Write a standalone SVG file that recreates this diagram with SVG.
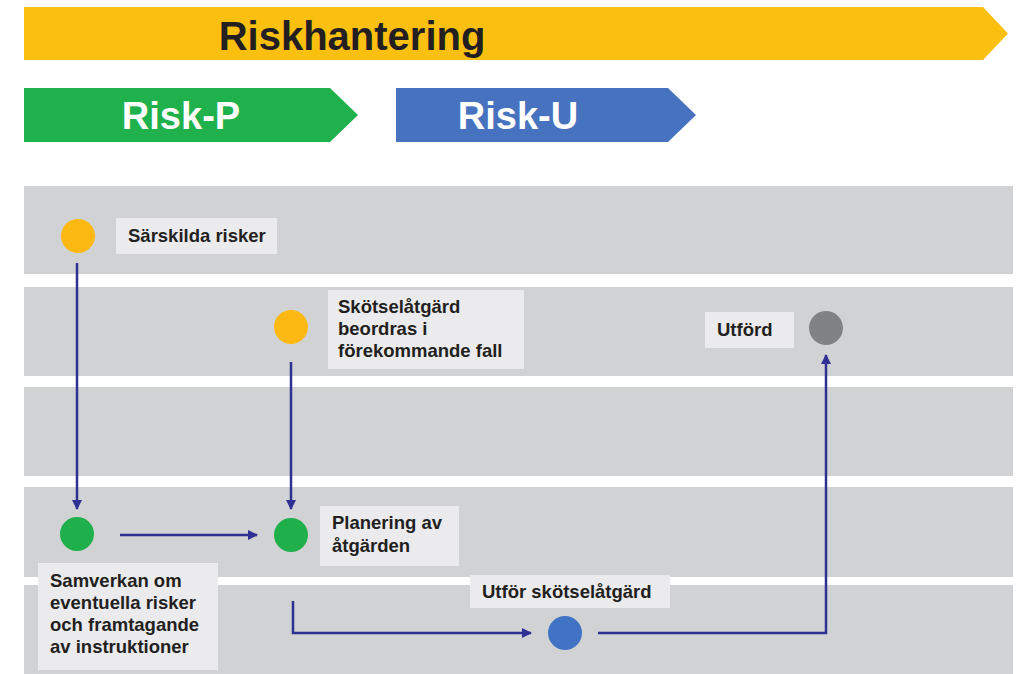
<svg xmlns="http://www.w3.org/2000/svg" width="1025" height="674" viewBox="0 0 1025 674">
<defs>
<style>
.lane{fill:#d1d2d4}
.lbl{fill:#ebebed}
.t{font-family:"Liberation Sans",Arial,sans-serif;font-weight:bold;font-size:18.5px;fill:#231f20}
.big{font-family:"Liberation Sans",Arial,sans-serif;font-weight:bold}
.c{fill:none;stroke:#2e3192;stroke-width:2.5}
</style>
<marker id="ah" viewBox="0 0 10 10" refX="9" refY="5" markerWidth="4" markerHeight="4" orient="auto" markerUnits="strokeWidth">
<path d="M0,0 L10,5 L0,10 Z" fill="#2e3192"/>
</marker>
</defs>
<rect width="1025" height="674" fill="#ffffff"/>
<g id="header">
<polygon points="24,7 983,7 1008,33.5 983,60 24,60" fill="#fbbf0f"/>
<text class="big" x="352" y="50" font-size="40" text-anchor="middle" fill="#231f20">Riskhantering</text>
<polygon points="24,88 330,88 358,115 330,142 24,142" fill="#1fb14b"/>
<text class="big" x="181" y="129" font-size="38" text-anchor="middle" fill="#ffffff">Risk-P</text>
<polygon points="396,88 668,88 696,115 668,142 396,142" fill="#4772c0"/>
<text class="big" x="518" y="129" font-size="38" text-anchor="middle" fill="#ffffff">Risk-U</text>
</g>
<g id="lanes">
<rect class="lane" x="24" y="186" width="989" height="88"/>
<rect class="lane" x="24" y="287" width="989" height="89"/>
<rect class="lane" x="24" y="387" width="989" height="89"/>
<rect class="lane" x="24" y="487" width="989" height="90"/>
<rect class="lane" x="24" y="585" width="989" height="89"/>
</g>
<g id="connectors">
<line class="c" x1="77" y1="263" x2="77" y2="509" marker-end="url(#ah)"/>
<line class="c" x1="291" y1="362" x2="291" y2="509" marker-end="url(#ah)"/>
<line class="c" x1="120" y1="535" x2="257" y2="535" marker-end="url(#ah)"/>
<polyline class="c" points="293,601 293,633 531,633" marker-end="url(#ah)"/>
<polyline class="c" points="598,633 826,633 826,355" marker-end="url(#ah)"/>
</g>
<g id="n-sarskilda">
<circle cx="78" cy="236" r="17" fill="#fdb913"/>
<rect class="lbl" x="116" y="218" width="161" height="36"/>
<text class="t" x="128" y="242">Särskilda risker</text>
</g>
<g id="n-skotsel">
<circle cx="291" cy="327" r="17" fill="#fdb913"/>
<rect class="lbl" x="328" y="290" width="196" height="79"/>
<text class="t" x="338" y="313">Skötselåtgärd</text>
<text class="t" x="338" y="335">beordras i</text>
<text class="t" x="338" y="357">förekommande fall</text>
</g>
<g id="n-utford">
<circle cx="826" cy="328" r="17" fill="#808285"/>
<rect class="lbl" x="705" y="312" width="89" height="36"/>
<text class="t" x="717" y="336">Utförd</text>
</g>
<g id="n-samverkan">
<circle cx="77" cy="534" r="17" fill="#20b04b"/>
<rect class="lbl" x="38" y="563" width="180" height="107"/>
<text class="t" x="50" y="587">Samverkan om</text>
<text class="t" x="50" y="609">eventuella risker</text>
<text class="t" x="50" y="631">och framtagande</text>
<text class="t" x="50" y="653">av instruktioner</text>
</g>
<g id="n-planering">
<circle cx="291" cy="535" r="17" fill="#20b04b"/>
<rect class="lbl" x="320" y="506" width="139" height="60"/>
<text class="t" x="332" y="529">Planering av</text>
<text class="t" x="332" y="552">åtgärden</text>
</g>
<g id="n-utfor">
<circle cx="565" cy="633" r="17" fill="#4073c4"/>
<rect class="lbl" x="470" y="575" width="200" height="33"/>
<text class="t" x="482" y="598">Utför skötselåtgärd</text>
</g>
</svg>
